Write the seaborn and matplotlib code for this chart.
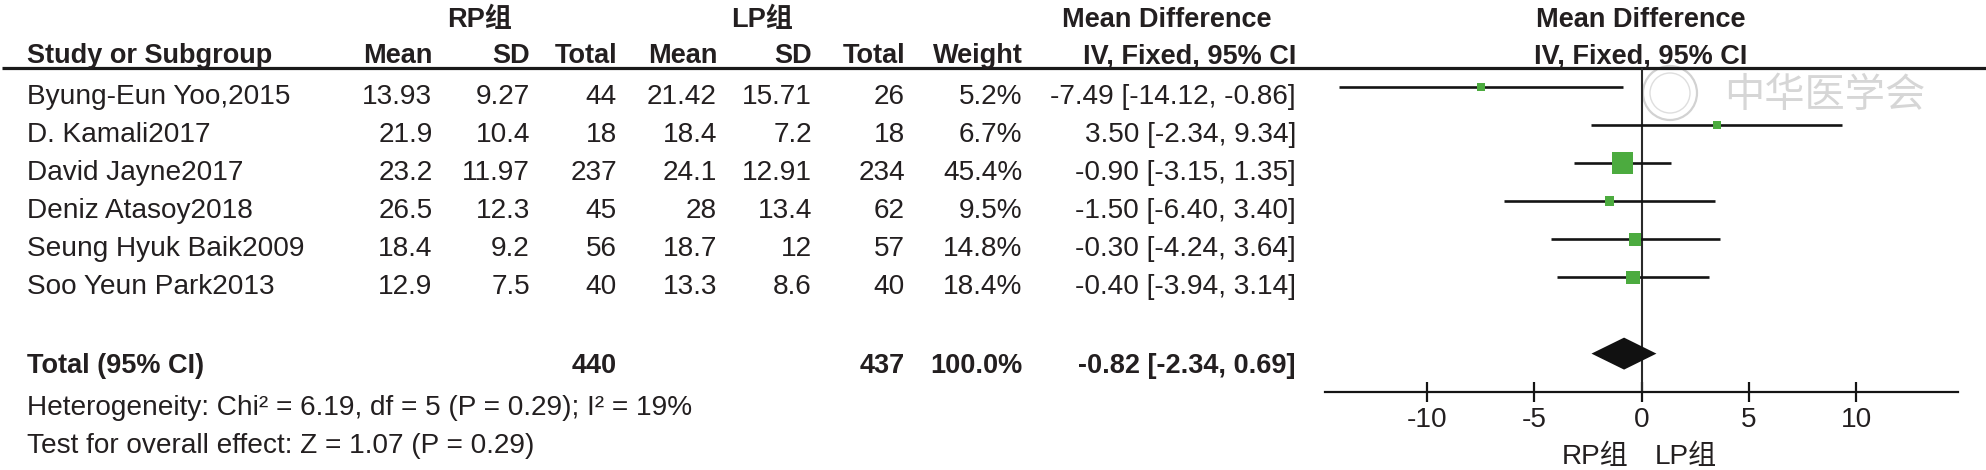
import numpy as np
import pandas as pd
import matplotlib
matplotlib.use("Agg")
import matplotlib.pyplot as plt
from matplotlib.patches import Circle
import seaborn as sns

# ---------------- data ----------------
studies = ["Byung-Eun Yoo,2015", "D. Kamali2017", "David Jayne2017",
           "Deniz Atasoy2018", "Seung Hyuk Baik2009", "Soo Yeun Park2013"]
rp_mean = ["13.93", "21.9", "23.2", "26.5", "18.4", "12.9"]
rp_sd = ["9.27", "10.4", "11.97", "12.3", "9.2", "7.5"]
rp_total = [44, 18, 237, 45, 56, 40]
lp_mean = ["21.42", "18.4", "24.1", "28", "18.7", "13.3"]
lp_sd = ["15.71", "7.2", "12.91", "13.4", "12", "8.6"]
lp_total = [26, 18, 234, 62, 57, 40]
weight = [5.2, 6.7, 45.4, 9.5, 14.8, 18.4]
md = [-7.49, 3.50, -0.90, -1.50, -0.30, -0.40]
ci_lo = [-14.12, -2.34, -3.15, -6.40, -4.24, -3.94]
ci_hi = [-0.86, 9.34, 1.35, 3.40, 3.64, 3.14]

total_rp = 440
total_lp = 437
total_weight = 100.0
total_md = -0.82
total_lo = -2.34
total_hi = 0.69

heterogeneity = "Heterogeneity: Chi² = 6.19, df = 5 (P = 0.29); I² = 19%"
overall = "Test for overall effect: Z = 1.07 (P = 0.29)"
x_ticks = [-10, -5, 0, 5, 10]
group_labels = ["RP组", "LP组"]
watermark = "中华医学会"

# ---------------- style ----------------
sns.set_style("white")
plt.rcParams["font.family"] = ["Liberation Sans", "Noto Sans CJK SC", "DejaVu Sans"]

W, H = 1986, 470
fig = plt.figure(figsize=(W / 100, H / 100), dpi=100)
fig.patch.set_facecolor("white")

TXT = "#231f20"
FS = 20.2
FSB = 19.5

# table axes in pixel coordinates
ax_t = fig.add_axes([0, 0, 1, 1])
ax_t.set_xlim(0, W)
ax_t.set_ylim(H, 0)
ax_t.axis("off")

# watermark (faint)
ax_t.add_patch(Circle((1670, 93), 27, fill=False, ec="#d2d2d2", lw=1.6, zorder=0))
ax_t.add_patch(Circle((1670, 93), 20, fill=False, ec="#dedede", lw=1.0, zorder=0))
ax_t.text(1825, 96, watermark, fontsize=29, color="#d6d6d6", ha="center", va="center",
          family=["Noto Sans CJK SC"], zorder=0)

# headers
hdr = dict(fontsize=FSB, fontweight="bold", color=TXT, va="baseline")
ax_t.text(480, 26.7, group_labels[0], ha="center", **hdr)
ax_t.text(762, 26.7, group_labels[1], ha="center", **hdr)
ax_t.text(1167, 26.7, "Mean Difference", ha="center", **hdr)
ax_t.text(1641, 26.7, "Mean Difference", ha="center", **hdr)

ax_t.text(26.7, 63.3, "Study or Subgroup", ha="left", **hdr)
col_right = [432.5, 530, 617, 717, 812, 905, 1022.5, 1296]
col_names = ["Mean", "SD", "Total", "Mean", "SD", "Total", "Weight", "IV, Fixed, 95% CI"]
for xr, nm in zip(col_right, col_names):
    ax_t.text(xr, 63.3, nm, ha="right", **hdr)
ax_t.text(1641, 63.3, "IV, Fixed, 95% CI", ha="center", **hdr)

# underline
ax_t.plot([2, W], [68, 68], color="#1a1a1a", lw=2.3, solid_capstyle="butt")

# study rows
row_pitch = 38.07
body = dict(fontsize=FS, color=TXT, va="baseline")
for i, s in enumerate(studies):
    yb = 104 + row_pitch * i
    ax_t.text(26.7, yb, s, ha="left", **body)
    vals = [rp_mean[i], rp_sd[i], str(rp_total[i]), lp_mean[i], lp_sd[i],
            str(lp_total[i]), f"{weight[i]:.1f}%",
            f"{md[i]:.2f} [{ci_lo[i]:.2f}, {ci_hi[i]:.2f}]"]
    for xr, v in zip(col_right, vals):
        ax_t.text(xr, yb, v, ha="right", **body)

# total row
ytot = 373.3
ax_t.text(26.7, ytot, "Total (95% CI)", ha="left", **hdr)
ax_t.text(col_right[2], ytot, str(total_rp), ha="right", **hdr)
ax_t.text(col_right[5], ytot, str(total_lp), ha="right", **hdr)
ax_t.text(col_right[6], ytot, f"{total_weight:.1f}%", ha="right", **hdr)
ax_t.text(col_right[7], ytot, f"{total_md:.2f} [{total_lo:.2f}, {total_hi:.2f}]", ha="right", **hdr)

ax_t.text(26.7, 415, heterogeneity, ha="left", **body)
ax_t.text(26.7, 453.3, overall, ha="left", **body)

# favours labels
ax_t.text(1628, 464.3, group_labels[0], ha="right", **body)
ax_t.text(1654.3, 464.3, group_labels[1], ha="left", **body)

# ---------------- forest axes ----------------
left_px, right_px, top_px, bot_px = 1325, 1958.3, 68, 391.7
ax_f = fig.add_axes([left_px / W, (H - bot_px) / H, (right_px - left_px) / W, (bot_px - top_px) / H])
ax_f.patch.set_alpha(0)
ax_f.set_xlim(-14.77, 14.77)
ax_f.set_ylim(8.0, -0.5)

rows = np.arange(len(studies))
df = pd.DataFrame({"md": md, "lo": ci_lo, "hi": ci_hi, "w": weight, "row": rows})

ax_f.axvline(0, color="#2a2a2a", lw=1.5, zorder=1)
ax_f.hlines(df["row"], df["lo"], df["hi"], color="#141414", lw=1.9, zorder=2)

k = 5.3  # marker area (pt^2) per weight percent
sns.scatterplot(data=df, x="md", y="row", size="w", sizes=(k * min(weight), k * max(weight)),
                size_norm=(min(weight), max(weight)), marker="s", color="#4cab3f",
                linewidth=0, legend=False, ax=ax_f, zorder=3)

# diamond for total
ytot_row = 7.0
hd = 0.42
ax_f.fill([total_lo, total_md, total_hi, total_md],
          [ytot_row, ytot_row - hd, ytot_row, ytot_row + hd],
          color="#111111", lw=0, zorder=3)

for sp in ["left", "right", "top"]:
    ax_f.spines[sp].set_visible(False)
ax_f.spines["bottom"].set_linewidth(1.6)
ax_f.spines["bottom"].set_color("#141414")
ax_f.set_xticks(x_ticks)
ax_f.set_xticklabels([str(t) for t in x_ticks])
ax_f.tick_params(axis="x", bottom=True, direction="inout", length=14.4, width=1.6,
                 color="#141414", labelsize=FS, labelcolor=TXT, pad=4)
ax_f.set_yticks([])
ax_f.set_xlabel("")
ax_f.set_ylabel("")

fig.savefig("out.png", dpi=100)
